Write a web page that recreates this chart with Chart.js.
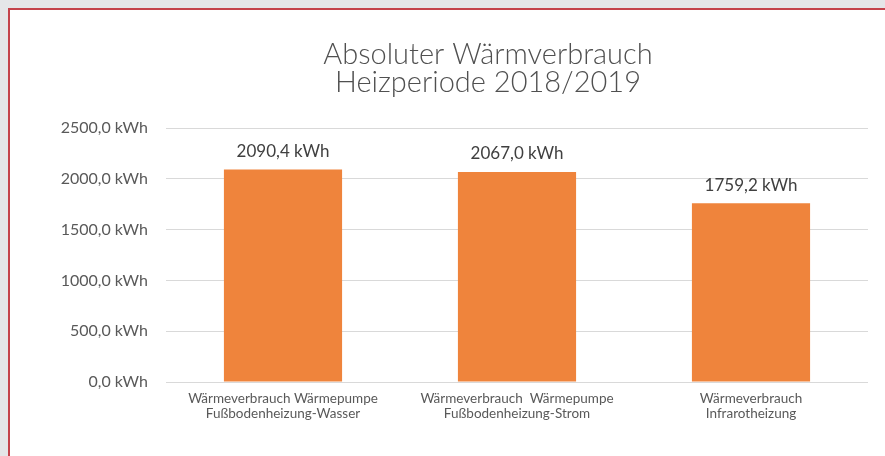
<!DOCTYPE html>
<html>
<head>
<meta charset="utf-8">
<script src="https://cdn.jsdelivr.net/npm/chart.js@4"></script>
<style>
  html, body { margin: 0; padding: 0; background: #e5e6e8; }
  #wrap { position: relative; width: 885px; height: 456px; overflow: hidden; }
  #card { position: absolute; left: 8px; top: 8px; width: 890px; height: 460px;
          background: #fff; border-left: 2px solid #c4434b; border-top: 2px solid #c4434b; }
  #c { position: absolute; left: 0; top: 0; }
</style>
</head>
<body>
<div id="wrap">
  <div id="card"></div>
  <canvas id="c" width="885" height="456"></canvas>
</div>
<script>
// Data
const categories = [
    ['Wärmeverbrauch Wärmepumpe', 'Fußbodenheizung-Wasser'],
    ['Wärmeverbrauch  Wärmepumpe', 'Fußbodenheizung-Strom'],
    ['Wärmeverbrauch', 'Infrarotheizung']
];
const values = [2090.4, 2067.0, 1759.2];
const titleLines = ['Absoluter Wärmverbrauch', 'Heizperiode 2018/2019'];
const yMax = 2500;
const yStep = 500;

const fmt = v => v.toFixed(1).replace('.', ',') + ' kWh';

// Title drawn at its own spot (offset from plot centre like the original)
const titlePlugin = {
    id: 'titleText',
    afterDraw(chart) {
        const ctx = chart.ctx;
        ctx.save();
        ctx.fillStyle = '#505050';
        ctx.font = '300 29px Lato';
        ctx.textAlign = 'center';
        ctx.textBaseline = 'alphabetic';
        ctx.fillText(titleLines[0], 488, 64);
        ctx.fillText(titleLines[1], 488, 92);
        ctx.restore();
    }
};

// Value labels above the bars
const valueLabels = {
    id: 'valueLabels',
    afterDatasetsDraw(chart) {
        const ctx = chart.ctx;
        const meta = chart.getDatasetMeta(0);
        ctx.save();
        ctx.fillStyle = '#404040';
        ctx.font = '17px Lato';
        ctx.textAlign = 'center';
        ctx.textBaseline = 'middle';
        meta.data.forEach((bar, i) => {
            ctx.fillText(fmt(values[i]), bar.x, bar.y - 18);
        });
        ctx.restore();
    }
};

new Chart(document.getElementById('c').getContext('2d'), {
    type: 'bar',
    data: {
        labels: categories,
        datasets: [{
            data: values,
            backgroundColor: '#ef843c',
            categoryPercentage: 1,
            barPercentage: 0.505
        }]
    },
    options: {
        responsive: false,
        animation: false,
        layout: { padding: { left: 0, right: 17, top: 128, bottom: 0 } },
        plugins: { legend: { display: false }, tooltip: { enabled: false } },
        scales: {
            x: {
                grid: { display: false },
                border: { display: false },
                ticks: { color: '#595959', font: { family: 'Lato', size: 13.5, lineHeight: 1.1 }, padding: 1, maxRotation: 0 },
                afterFit(s) { s.height = 74; }
            },
            y: {
                min: 0, max: yMax,
                grid: { color: '#d9d9d9', drawTicks: false },
                border: { display: false },
                ticks: {
                    stepSize: yStep,
                    color: '#595959',
                    font: { family: 'Lato', size: 16 },
                    padding: 18,
                    callback: v => fmt(v)
                },
                afterFit(s) { s.width = 166; }
            }
        }
    },
    plugins: [titlePlugin, valueLabels]
});
</script>
</body>
</html>
